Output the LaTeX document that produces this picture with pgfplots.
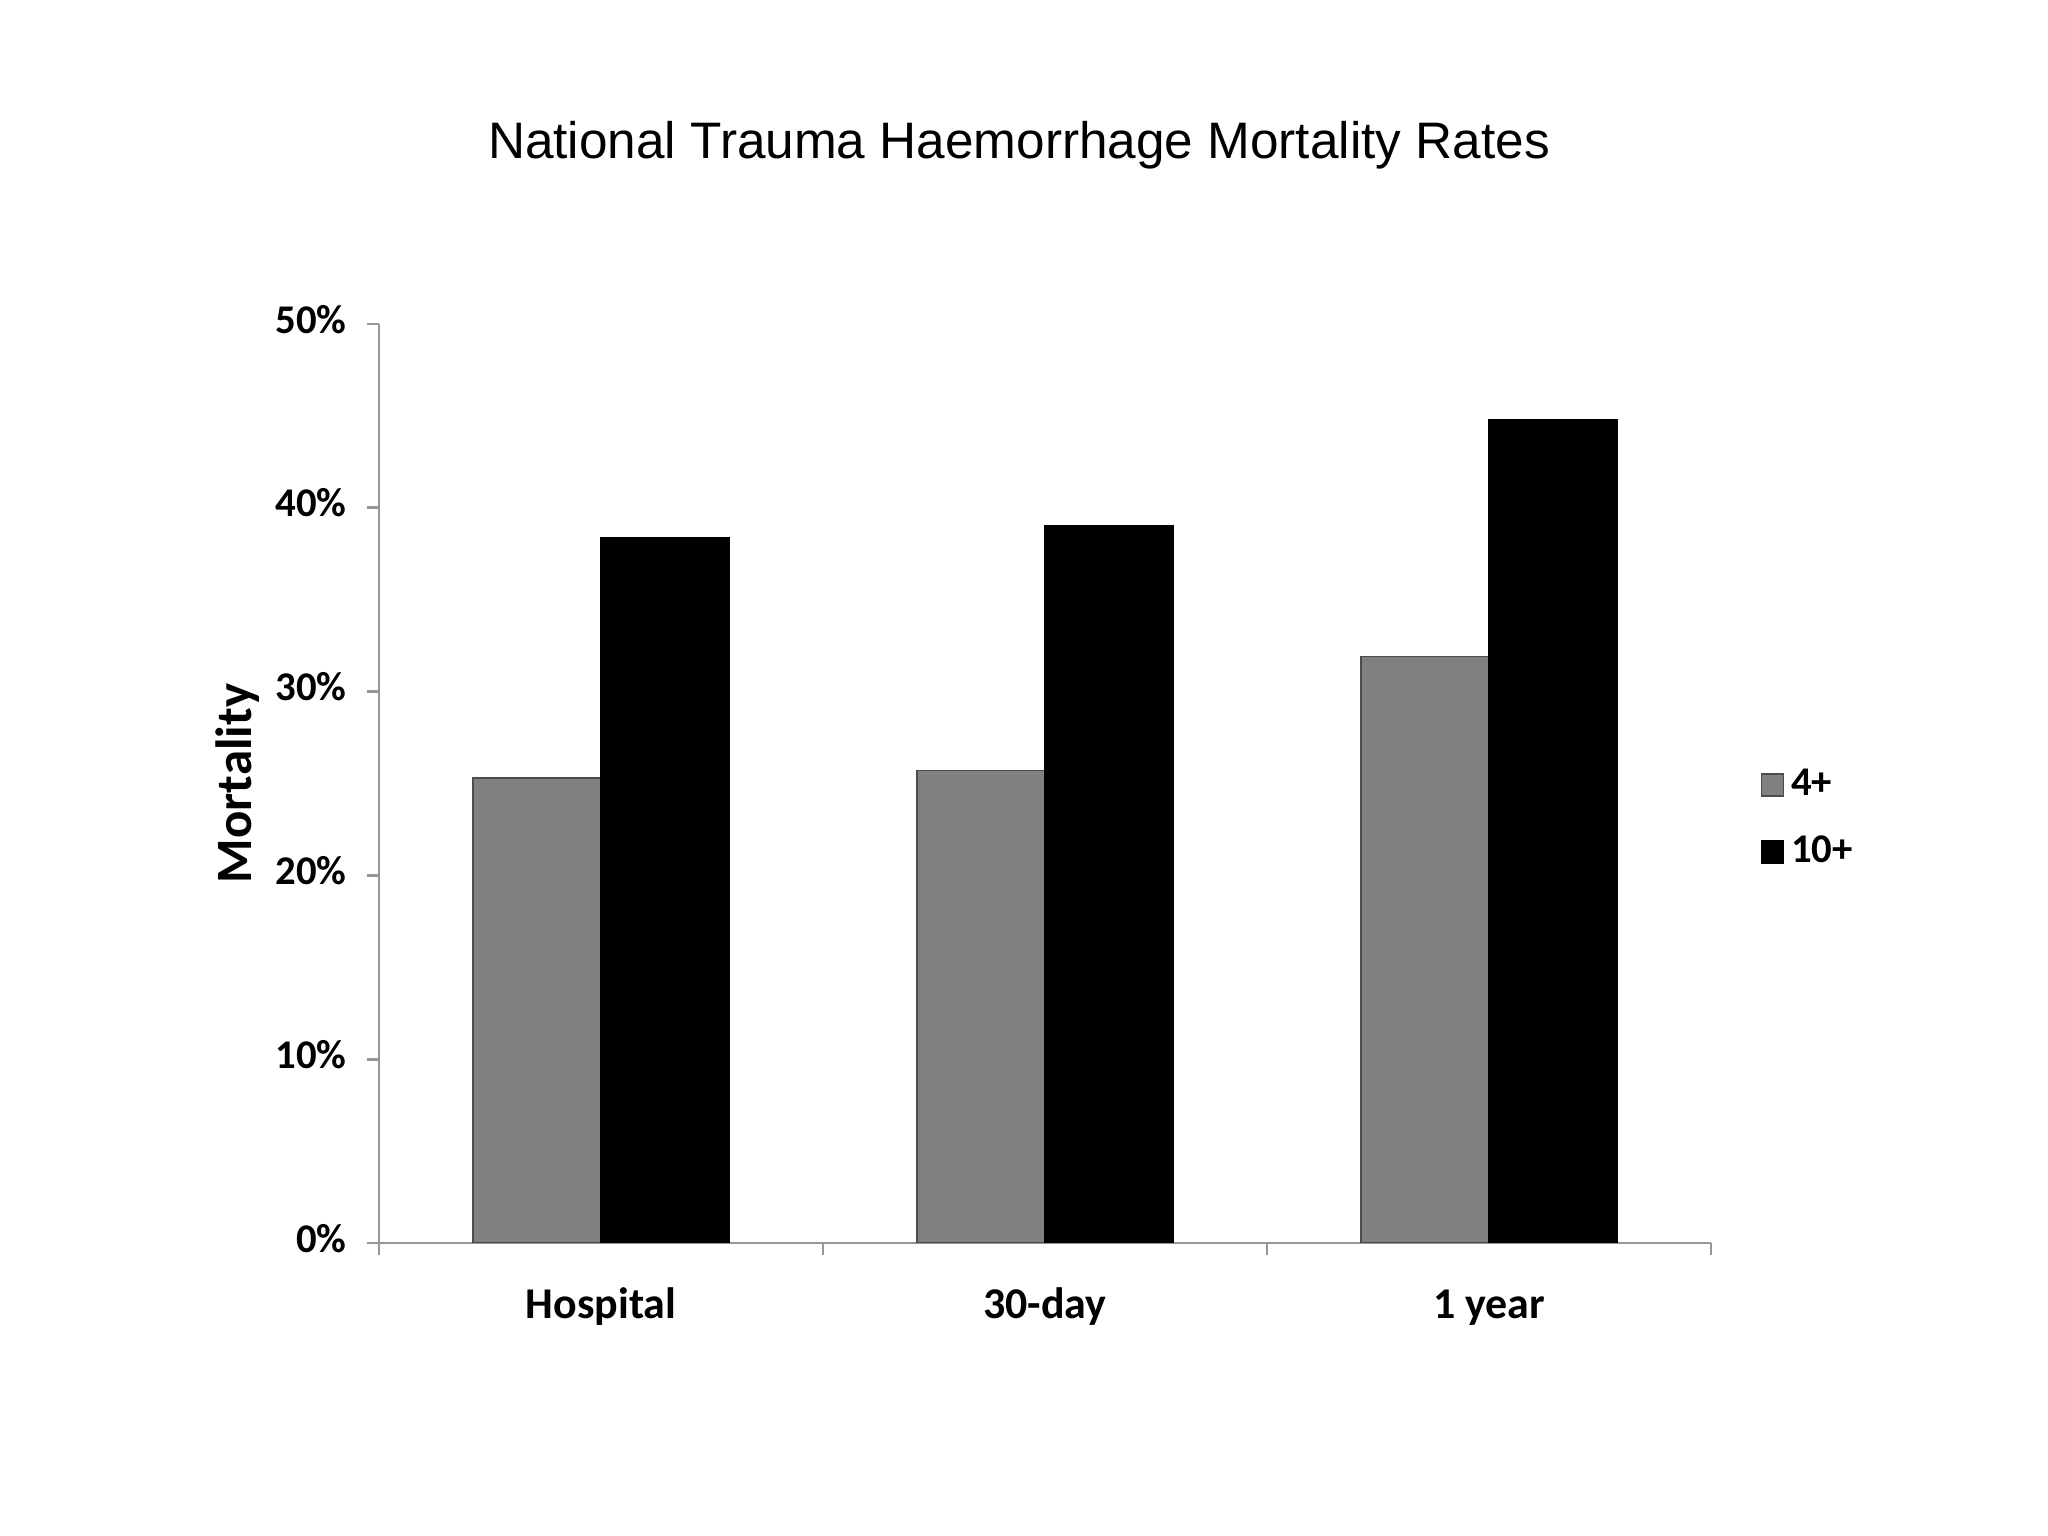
\documentclass[border=0pt]{standalone}
\usepackage{pgfplots}
\pgfplotsset{compat=1.18}
\usepackage{fontspec}
\setmainfont{Carlito}
\newfontfamily\titlefont{Liberation Sans}
\definecolor{barg}{RGB}{128,128,128}
\definecolor{axg}{RGB}{150,150,150}
\begin{document}
\begin{tikzpicture}[x=1cm,y=1cm]
\useasboundingbox (0,0) rectangle (20.48,15.36);
\node[font=\titlefont\fontsize{14.6}{17}\selectfont] at (10.19,13.91) {National Trauma Haemorrhage Mortality Rates};
\begin{axis}[
  at={(3.79cm,2.93cm)}, anchor=south west,
  width=13.32cm, height=9.19cm, scale only axis,
  ybar=0pt, bar width=1.28cm,
  xmin=-0.5, xmax=2.5, ymin=0, ymax=50,
  axis lines=left, axis line style={axg, line width=0.8pt, -},
  xtick={-0.5,0.5,1.5,2.5}, xticklabels={},
  extra x ticks={0,1,2}, extra x tick labels={Hospital,30-day,1 year},
  extra x tick style={major tick length=0pt, tick label style={font=\bfseries\fontsize{12.5}{14}\selectfont, yshift=-0.29cm}},
  typeset ticklabels with strut,
  ytick={0,10,20,30,40,50},
  yticklabels={0\%,10\%,20\%,30\%,40\%,50\%},
  y tick label style={font=\bfseries\fontsize{11.6}{13}\selectfont, xshift=-0.08cm},
  major tick length=0.12cm, tick align=outside,
  tick style={axg, line width=0.8pt},
  ylabel={Mortality},
  ylabel style={font=\bfseries\fontsize{14.5}{16}\selectfont, yshift=-0.08cm},
  legend style={at={(1.029,0.462)}, anchor=west, draw=none, fill=none,
    font=\bfseries\fontsize{11.6}{13}\selectfont, row sep=0.21cm,
    /tikz/every even column/.append style={column sep=0.1cm}},
  legend cell align=left,
  legend image code/.code={\draw[#1, line width=0.4pt] (0cm,-0.11cm) rectangle (0.22cm,0.11cm);},
]
\addplot[fill=barg, draw=black!70, line width=0.4pt] coordinates {(0,25.3) (1,25.7) (2,31.9)};
\addplot[fill=black, draw=black, line width=0.4pt] coordinates {(0,38.4) (1,39.0) (2,44.8)};
\legend{4+,10+}
\end{axis}
\end{tikzpicture}
\end{document}
